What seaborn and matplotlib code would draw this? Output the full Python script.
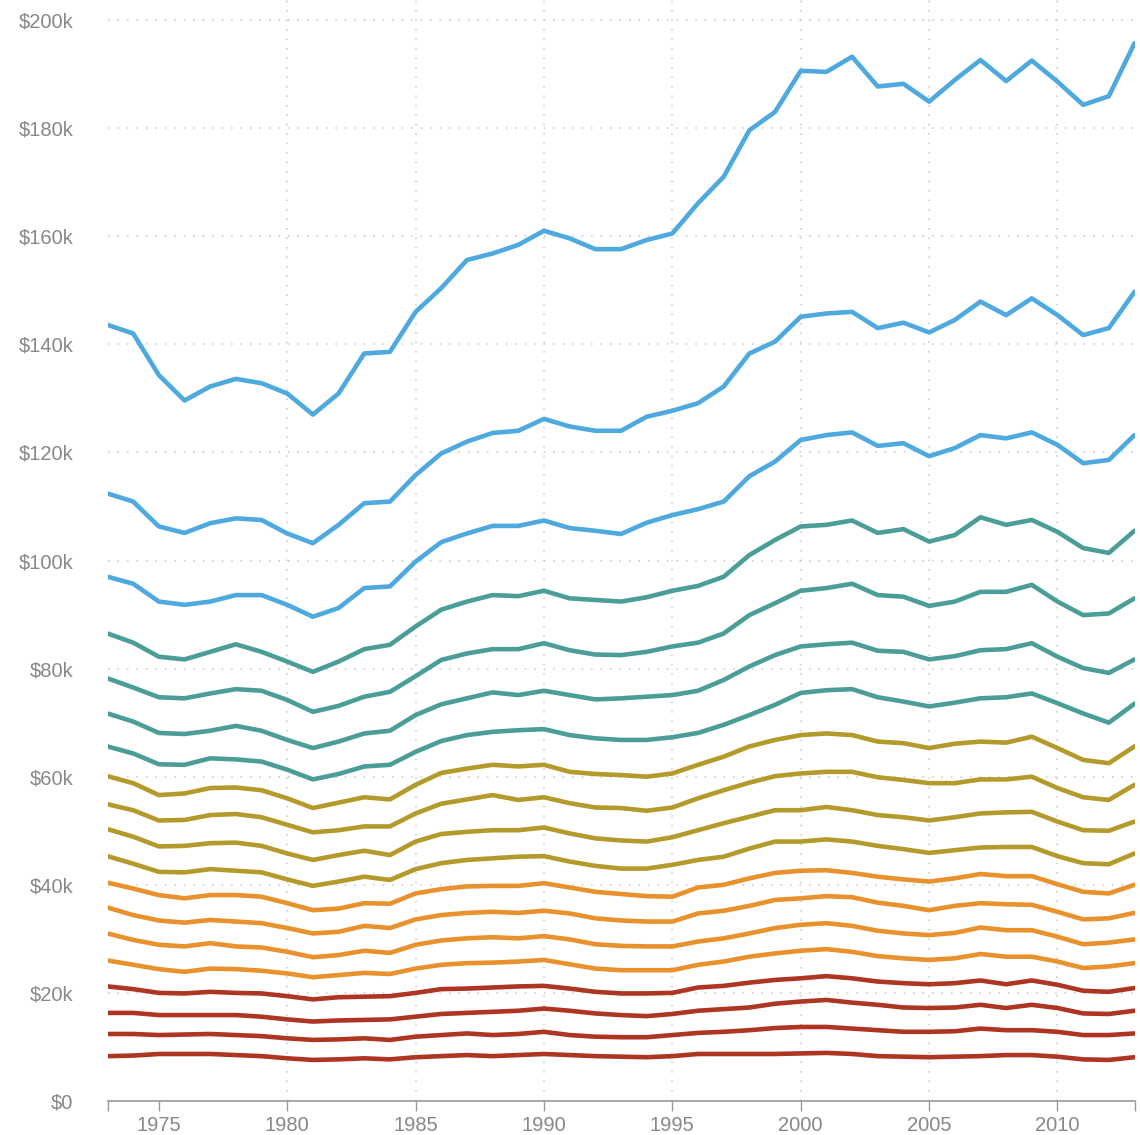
import pandas as pd
import numpy as np
import seaborn as sns
import matplotlib.pyplot as plt
from matplotlib.ticker import FixedLocator, FuncFormatter

years = list(range(1973, 2014))

# household income by percentile, thousands of dollars
p95 = [143.6, 142.0, 134.3, 129.6, 132.2, 133.6, 132.8, 130.9, 127.0, 130.9, 138.3, 138.6, 146.0, 150.4,
       155.6, 156.8, 158.4, 161.0, 159.6, 157.6, 157.6, 159.3, 160.5, 166.1, 171.0, 179.6, 183.0, 190.6,
       190.4, 193.2, 187.7, 188.2, 184.9, 188.9, 192.6, 188.7, 192.5, 188.6, 184.3, 185.9, 195.7]
p90 = [112.4, 110.9, 106.3, 105.1, 106.9, 107.8, 107.5, 105.0, 103.2, 106.6, 110.6, 110.9, 115.8, 119.8,
       122.0, 123.6, 124.0, 126.2, 124.8, 124.0, 124.0, 126.6, 127.7, 129.1, 132.2, 138.3, 140.5, 145.1,
       145.7, 146.0, 143.0, 144.0, 142.2, 144.5, 147.9, 145.4, 148.5, 145.4, 141.7, 143.0, 149.7]
p85 = [97.0, 95.7, 92.4, 91.8, 92.4, 93.6, 93.6, 91.8, 89.6, 91.2, 94.9, 95.2, 99.8, 103.4,
       105.0, 106.4, 106.4, 107.4, 106.0, 105.5, 104.9, 107.0, 108.4, 109.5, 110.9, 115.6, 118.3, 122.3,
       123.2, 123.7, 121.2, 121.7, 119.3, 120.8, 123.2, 122.6, 123.7, 121.4, 118.0, 118.6, 123.2]
p80 = [86.5, 84.8, 82.2, 81.7, 83.1, 84.5, 83.1, 81.3, 79.4, 81.3, 83.6, 84.4, 87.8, 90.9,
       92.4, 93.6, 93.4, 94.4, 93.0, 92.7, 92.4, 93.2, 94.4, 95.3, 97.0, 101.0, 103.8, 106.3,
       106.6, 107.4, 105.1, 105.8, 103.5, 104.7, 108.0, 106.6, 107.5, 105.3, 102.3, 101.4, 105.5]
p75 = [78.2, 76.5, 74.7, 74.5, 75.4, 76.2, 75.9, 74.2, 72.0, 73.1, 74.8, 75.7, 78.6, 81.6,
       82.8, 83.6, 83.6, 84.7, 83.4, 82.6, 82.5, 83.1, 84.1, 84.8, 86.5, 89.9, 92.1, 94.4,
       94.9, 95.7, 93.6, 93.3, 91.6, 92.4, 94.2, 94.2, 95.5, 92.4, 89.9, 90.2, 93.0]
p70 = [71.7, 70.2, 68.1, 67.9, 68.5, 69.4, 68.5, 66.8, 65.3, 66.5, 68.0, 68.5, 71.4, 73.4,
       74.5, 75.6, 75.1, 75.9, 75.1, 74.3, 74.5, 74.8, 75.1, 75.9, 77.9, 80.4, 82.5, 84.1,
       84.5, 84.8, 83.3, 83.1, 81.7, 82.3, 83.4, 83.6, 84.7, 82.2, 80.1, 79.2, 81.7]
p65 = [65.6, 64.3, 62.3, 62.2, 63.4, 63.2, 62.8, 61.3, 59.5, 60.5, 61.9, 62.2, 64.6, 66.6,
       67.7, 68.3, 68.6, 68.8, 67.7, 67.1, 66.8, 66.8, 67.3, 68.1, 69.6, 71.4, 73.3, 75.5,
       76.0, 76.2, 74.7, 73.9, 73.0, 73.7, 74.5, 74.7, 75.4, 73.6, 71.7, 70.0, 73.5]
p60 = [60.1, 58.8, 56.6, 56.9, 57.9, 58.0, 57.5, 56.0, 54.2, 55.2, 56.2, 55.8, 58.5, 60.7,
       61.5, 62.2, 61.9, 62.2, 60.9, 60.5, 60.3, 60.0, 60.6, 62.2, 63.7, 65.6, 66.8, 67.7,
       68.0, 67.7, 66.5, 66.2, 65.3, 66.1, 66.5, 66.3, 67.4, 65.3, 63.1, 62.5, 65.6]
p55 = [54.9, 53.8, 51.9, 52.0, 52.9, 53.1, 52.5, 51.1, 49.7, 50.1, 50.8, 50.8, 53.2, 55.0,
       55.8, 56.6, 55.7, 56.2, 55.1, 54.3, 54.2, 53.7, 54.3, 56.0, 57.5, 58.9, 60.1, 60.6,
       60.9, 60.9, 59.9, 59.4, 58.8, 58.8, 59.5, 59.5, 60.0, 57.9, 56.2, 55.7, 58.5]
p50 = [50.3, 48.9, 47.1, 47.2, 47.7, 47.8, 47.2, 45.8, 44.6, 45.5, 46.3, 45.5, 48.0, 49.4,
       49.8, 50.1, 50.1, 50.6, 49.5, 48.6, 48.2, 48.0, 48.8, 50.1, 51.4, 52.6, 53.8, 53.8,
       54.4, 53.8, 52.9, 52.5, 51.9, 52.5, 53.2, 53.4, 53.5, 51.7, 50.1, 50.0, 51.7]
p45 = [45.3, 43.9, 42.4, 42.3, 42.9, 42.6, 42.3, 41.0, 39.8, 40.6, 41.5, 40.9, 42.9, 44.0,
       44.6, 44.9, 45.2, 45.3, 44.3, 43.5, 43.0, 43.0, 43.7, 44.6, 45.2, 46.7, 48.0, 48.0,
       48.4, 48.0, 47.2, 46.6, 45.9, 46.4, 46.9, 47.0, 47.0, 45.3, 44.0, 43.8, 45.8]
p40 = [40.4, 39.3, 38.1, 37.5, 38.1, 38.1, 37.8, 36.6, 35.3, 35.6, 36.6, 36.5, 38.4, 39.2,
       39.7, 39.8, 39.8, 40.3, 39.5, 38.7, 38.3, 37.9, 37.8, 39.5, 40.0, 41.2, 42.2, 42.6,
       42.7, 42.2, 41.5, 41.0, 40.6, 41.2, 42.0, 41.6, 41.6, 40.1, 38.7, 38.4, 40.0]
p35 = [35.8, 34.4, 33.4, 33.0, 33.5, 33.2, 32.9, 32.0, 31.0, 31.3, 32.4, 32.0, 33.6, 34.4,
       34.8, 35.0, 34.8, 35.2, 34.7, 33.8, 33.4, 33.2, 33.2, 34.7, 35.2, 36.1, 37.2, 37.5,
       37.9, 37.7, 36.7, 36.1, 35.3, 36.1, 36.6, 36.4, 36.3, 35.0, 33.6, 33.8, 34.8]
p30 = [31.0, 29.8, 28.9, 28.6, 29.2, 28.6, 28.4, 27.6, 26.6, 27.0, 27.8, 27.4, 28.9, 29.7,
       30.1, 30.3, 30.1, 30.5, 29.9, 29.0, 28.7, 28.6, 28.6, 29.5, 30.1, 31.0, 32.0, 32.6,
       32.9, 32.4, 31.5, 31.0, 30.7, 31.1, 32.1, 31.6, 31.6, 30.4, 29.0, 29.3, 29.9]
p25 = [26.0, 25.2, 24.4, 23.9, 24.5, 24.4, 24.1, 23.6, 22.9, 23.3, 23.7, 23.5, 24.5, 25.2,
       25.5, 25.6, 25.8, 26.1, 25.3, 24.5, 24.2, 24.2, 24.2, 25.2, 25.8, 26.7, 27.3, 27.8,
       28.1, 27.6, 26.8, 26.4, 26.1, 26.4, 27.2, 26.7, 26.7, 25.8, 24.6, 24.9, 25.5]
p20 = [21.2, 20.7, 20.0, 19.9, 20.2, 20.0, 19.9, 19.4, 18.8, 19.2, 19.3, 19.4, 20.0, 20.7,
       20.8, 21.0, 21.2, 21.3, 20.8, 20.2, 19.9, 19.9, 20.0, 21.0, 21.3, 21.9, 22.4, 22.7,
       23.1, 22.7, 22.1, 21.8, 21.6, 21.8, 22.3, 21.6, 22.3, 21.5, 20.4, 20.2, 20.9]
p15 = [16.3, 16.3, 15.9, 15.9, 15.9, 15.9, 15.6, 15.1, 14.7, 14.9, 15.0, 15.1, 15.6, 16.1,
       16.3, 16.5, 16.7, 17.1, 16.7, 16.2, 15.9, 15.7, 16.1, 16.7, 17.0, 17.3, 18.0, 18.4,
       18.7, 18.2, 17.8, 17.3, 17.2, 17.3, 17.8, 17.2, 17.8, 17.2, 16.2, 16.1, 16.7]
p10 = [12.4, 12.4, 12.2, 12.3, 12.4, 12.2, 12.0, 11.6, 11.3, 11.4, 11.6, 11.3, 11.9, 12.2,
       12.5, 12.2, 12.4, 12.8, 12.2, 11.9, 11.8, 11.8, 12.2, 12.6, 12.8, 13.1, 13.5, 13.7,
       13.7, 13.4, 13.1, 12.8, 12.8, 12.9, 13.4, 13.1, 13.1, 12.8, 12.2, 12.2, 12.5]
p5 = [8.3, 8.4, 8.7, 8.7, 8.7, 8.5, 8.3, 7.9, 7.6, 7.7, 7.9, 7.7, 8.1, 8.3,
      8.5, 8.3, 8.5, 8.7, 8.5, 8.3, 8.2, 8.1, 8.3, 8.7, 8.7, 8.7, 8.7, 8.8,
      8.9, 8.7, 8.3, 8.2, 8.1, 8.2, 8.3, 8.5, 8.5, 8.2, 7.7, 7.6, 8.1]

series = {5: p5, 10: p10, 15: p15, 20: p20, 25: p25, 30: p30, 35: p35, 40: p40, 45: p45,
          50: p50, 55: p55, 60: p60, 65: p65, 70: p70, 75: p75, 80: p80, 85: p85, 90: p90, 95: p95}

red, orange, olive, teal, blue = "#ad3521", "#e8912d", "#b39a2b", "#4b9e97", "#4ea9df"
palette = {}
for p in series:
    if p <= 20:
        palette[p] = red
    elif p <= 40:
        palette[p] = orange
    elif p <= 60:
        palette[p] = olive
    elif p <= 80:
        palette[p] = teal
    else:
        palette[p] = blue

rows = []
for p, vals in series.items():
    for yr, v in zip(years, vals):
        rows.append({"year": yr, "income": v, "pct": p})
df = pd.DataFrame(rows)

sns.set_style("white")
plt.rcParams["font.family"] = ["Liberation Sans", "DejaVu Sans"]

fig = plt.figure(figsize=(11.4, 11.35), dpi=100)
ax = fig.add_axes([107.5 / 1140, 34 / 1135, 1027 / 1140, 1101 / 1135])

sns.lineplot(data=df, x="year", y="income", hue="pct", palette=palette, legend=False,
             linewidth=3.3, ax=ax, solid_capstyle="round", solid_joinstyle="round")

ax.set_xlim(1973, 2013)
ax.set_ylim(0, 1101 / 5.405)

grey = "#888888"
ax.set_yticks(list(range(0, 201, 20)))
ax.yaxis.set_major_formatter(FuncFormatter(lambda v, pos: "$0" if v == 0 else f"${int(v)}k"))
ax.tick_params(axis="y", left=False, length=0, pad=34 / 1.389, labelsize=14.5, labelcolor=grey)

ax.set_xticks([1973] + list(range(1975, 2011, 5)) + [2013])
ax.set_xticklabels([""] + [str(y) for y in range(1975, 2011, 5)] + [""])
ax.xaxis.remove_overlapping_locs = False
ax.xaxis.set_minor_locator(FixedLocator(list(range(1980, 2011, 5))))
ax.tick_params(axis="x", which="major", bottom=True, length=7, width=1, color="#999999",
               direction="out", pad=4, labelsize=14.5, labelcolor=grey)
ax.tick_params(axis="x", which="minor", bottom=False, length=0)

ax.grid(False)
ax.yaxis.grid(True, which="major", color="#c8c8c8", linewidth=1.1, linestyle=(0, (1, 5.2)))
ax.xaxis.grid(True, which="minor", color="#c8c8c8", linewidth=1.1, linestyle=(0, (1, 5.2)))
ax.set_axisbelow(True)

for s in ["top", "right", "left"]:
    ax.spines[s].set_visible(False)
ax.spines["bottom"].set_color("#999999")
ax.spines["bottom"].set_linewidth(1.2)

ax.set_xlabel("")
ax.set_ylabel("")

plt.savefig("out.png", dpi=100)
